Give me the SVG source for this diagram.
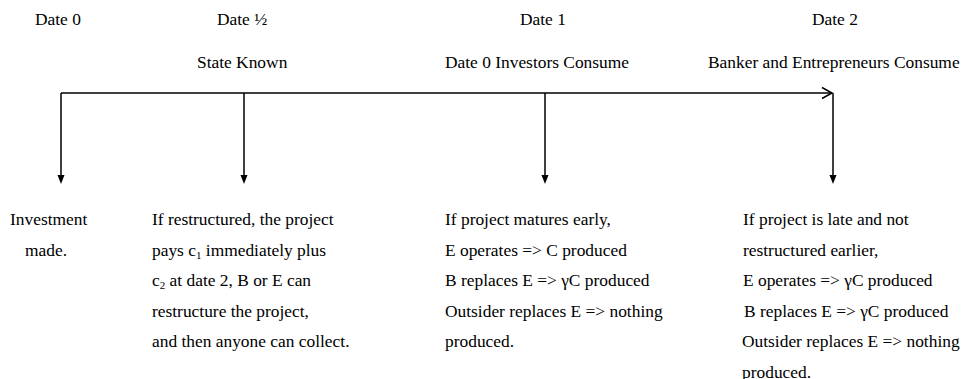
<svg xmlns="http://www.w3.org/2000/svg" width="962" height="379" viewBox="0 0 962 379">
<style>
text{font-size:17.4px;fill:#000}
.ln{stroke:#000;stroke-width:1.5;fill:none}
.sub{font-size:11px}
</style>
<rect width="962" height="379" fill="#fff"/>
<g font-family="Liberation Serif, Times New Roman, DejaVu Serif, serif">
<g id="labels-top">
<text x="35" y="25">Date 0</text>
<text x="217" y="25">Date ½</text>
<text x="197" y="68">State Known</text>
<text x="520" y="25">Date 1</text>
<text x="445" y="68">Date 0 Investors Consume</text>
<text x="812" y="25">Date 2</text>
<text x="708" y="68">Banker and Entrepreneurs Consume</text>
</g>
<g id="node-date0">
<text x="10" y="225">Investment</text>
<text x="25" y="255.5">made.</text>
</g>
<g id="node-datehalf">
<text x="152" y="225">If restructured, the project</text>
<text x="152" y="255.5">pays c<tspan class="sub" dy="3">1</tspan><tspan dy="-3"> immediately plus</tspan></text>
<text x="152" y="286">c<tspan class="sub" dy="3">2</tspan><tspan dy="-3"> at date 2, B or E can</tspan></text>
<text x="152" y="316.5">restructure the project,</text>
<text x="152" y="347">and then anyone can collect.</text>
</g>
<g id="node-date1">
<text x="445" y="225">If project matures early,</text>
<text x="445" y="255.5">E operates =&gt; C produced</text>
<text x="445" y="286">B replaces E =&gt; γC produced</text>
<text x="445" y="316.5">Outsider replaces E =&gt; nothing</text>
<text x="445" y="347">produced.</text>
</g>
<g id="node-date2">
<text x="743" y="225">If project is late and not</text>
<text x="743" y="255.5">restructured earlier,</text>
<text x="743" y="286">E operates =&gt; γC produced</text>
<text x="744" y="316.5">B replaces E =&gt; γC produced</text>
<text x="742" y="347">Outsider replaces E =&gt; nothing</text>
<text x="742" y="377.5">produced.</text>
</g>
</g>
<g id="connectors">
<line class="ln" x1="61" y1="93" x2="832" y2="93"/>
<polyline class="ln" points="822,87.5 832,93 822,98.5"/>
<line class="ln" x1="61" y1="93" x2="61" y2="176"/>
<path d="M57.5,175 L64.5,175 L61,184 Z"/>
<line class="ln" x1="244" y1="93" x2="244" y2="176"/>
<path d="M240.5,175 L247.5,175 L244,184 Z"/>
<line class="ln" x1="545" y1="93" x2="545" y2="176"/>
<path d="M541.5,175 L548.5,175 L545,184 Z"/>
<line class="ln" x1="833" y1="93" x2="833" y2="176"/>
<path d="M829.5,175 L836.5,175 L833,184 Z"/>
</g>
</svg>
